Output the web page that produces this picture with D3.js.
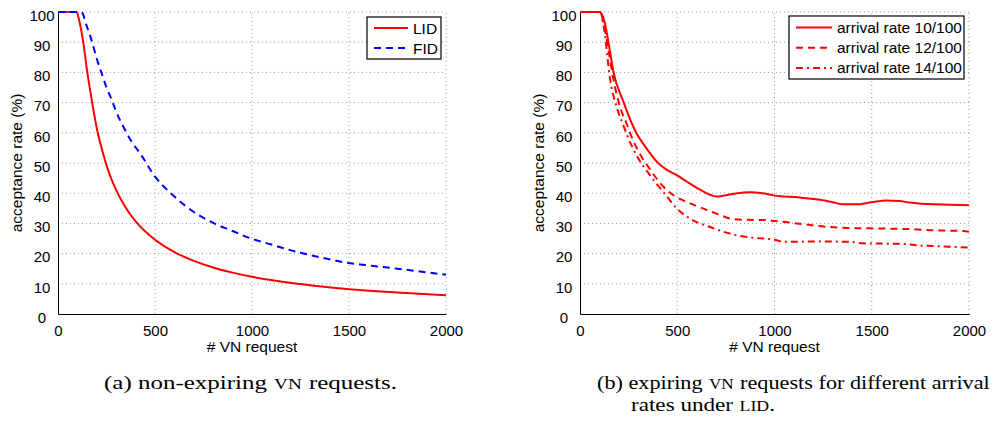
<!DOCTYPE html>
<html>
<head>
<meta charset="utf-8">
<script src="https://cdn.jsdelivr.net/npm/d3@7"></script>
<style>
  body { margin: 0; background: #fff; }
  svg { display: block; }
  .tick text { font-family: "Liberation Sans", Arial, sans-serif; font-size: 15px; fill: #000; }
  .lbl { font-family: "Liberation Sans", Arial, sans-serif; font-size: 15.5px; fill: #000; }
  .cap { font-family: "Liberation Serif", "DejaVu Serif", serif; font-size: 19.5px; fill: #000; }
</style>
</head>
<body>
<svg width="996" height="421"></svg>
<script>
// (a) non-expiring VN requests
const lidReq  = [0, 96, 110, 131, 150, 175, 200, 233, 260, 300, 350, 400, 450, 500, 600, 700, 800, 900, 1000, 1250, 1500, 1750, 2000];
const lidRate = [100, 100, 97, 89.6, 80.5, 70.5, 61.5, 53, 47.3, 41, 35.1, 30.7, 27.3, 24.6, 20.5, 17.6, 15.4, 13.7, 12.3, 9.9, 8.2, 7.1, 6.2];
const fidReq  = [0, 120, 150, 176, 200, 225, 250, 277, 300, 337, 380, 423, 500, 581, 667, 732, 805, 900, 990, 1100, 1230, 1350, 1488, 1600, 1750, 1900, 2000];
const fidRate = [100, 100, 95, 90, 84.5, 79.7, 75, 70.9, 67, 62, 57, 53.2, 45.5, 40, 35.3, 32.5, 30, 27.5, 25.1, 23, 20.6, 18.8, 17, 16.1, 15, 13.8, 13];

// (b) expiring VN requests, three arrival rates
const r10Req  = [0, 103, 125, 154, 171, 222, 285, 340, 397, 445, 497, 550, 600, 650, 702, 740, 800, 874, 930, 1000, 1130, 1233, 1300, 1353, 1420, 1499, 1576, 1640, 1696, 1816, 1900, 2000];
const r10Rate = [100, 100, 97, 87, 80.5, 70.5, 60.5, 55, 50.3, 47.8, 46, 43.8, 41.8, 40, 38.9, 39.2, 39.9, 40.3, 40.1, 39.2, 38.6, 37.8, 37, 36.3, 36.3, 37, 37.6, 37.4, 36.9, 36.3, 36.2, 36];
const r12Req  = [0, 103, 125, 150, 171, 206, 240, 260, 317, 343, 390, 428, 497, 560, 650, 720, 771, 850, 950, 1000, 1100, 1165, 1233, 1370, 1559, 1700, 1816, 1970, 2000];
const r12Rate = [100, 100, 95, 86, 78, 68.5, 63, 59.5, 52, 49.5, 45.2, 42.2, 38.7, 36.8, 34.5, 32.8, 31.6, 31.2, 31.1, 30.8, 30.1, 29.6, 29.1, 28.5, 28.3, 28.1, 27.7, 27.5, 27.2];
const r14Req  = [0, 103, 125, 154, 189, 223, 240, 300, 350, 394, 431, 497, 560, 668, 805, 900, 1000, 1045, 1233, 1388, 1450, 1576, 1660, 1747, 1900, 2000];
const r14Rate = [100, 100, 94, 78, 68.4, 62.5, 59.6, 51.5, 46.8, 43.1, 40.2, 35, 31.8, 28.8, 26.1, 25.2, 24.6, 23.9, 24, 23.9, 23.4, 23.3, 23.2, 22.7, 22.3, 22];

const xTicks = [0, 500, 1000, 1500, 2000];
const yTicks = [0, 10, 20, 30, 40, 50, 60, 70, 80, 90, 100];

const svg = d3.select("svg");

function zip(xs, ys) { return xs.map((x, i) => [x, ys[i]]); }

function drawPanel(left, right, series, legend) {
  const x = d3.scaleLinear().domain([0, 2000]).range([left, right]);
  const y = d3.scaleLinear().domain([0, 100]).range([314, 12]);
  const g = svg.append("g");

  // dotted grid
  g.append("g").selectAll("line").data(yTicks.filter(d => d > 0)).join("line")
    .attr("x1", x(0)).attr("x2", x(2000))
    .attr("y1", d => y(d)).attr("y2", d => y(d))
    .attr("stroke", "#9a9a9a").attr("stroke-width", 1).attr("stroke-dasharray", "1,3");
  g.append("g").selectAll("line").data(xTicks.filter(d => d > 0)).join("line")
    .attr("x1", d => x(d)).attr("x2", d => x(d))
    .attr("y1", y(0)).attr("y2", y(100))
    .attr("stroke", "#9a9a9a").attr("stroke-width", 1).attr("stroke-dasharray", "1,3");

  // axes
  const xa = g.append("g").attr("transform", `translate(0,${y(0)})`)
    .call(d3.axisBottom(x).tickValues(xTicks).tickSize(0).tickPadding(10).tickFormat(d3.format("d")));
  xa.select(".domain").attr("stroke", "#000");
  const ya = g.append("g").attr("transform", `translate(${x(0)},0)`)
    .call(d3.axisLeft(y).tickValues(yTicks).tickSize(0).tickFormat(d3.format("d")));
  ya.select(".domain").attr("stroke", "#000");
  ya.selectAll(".tick text").attr("text-anchor", "middle").attr("x", -16).attr("dy", "0.55em");
  xa.selectAll(".tick text").attr("dy", "0.82em");

  g.append("text").attr("class", "lbl").attr("text-anchor", "middle")
    .attr("x", (left + right) / 2).attr("y", 352).text("# VN request");
  g.append("text").attr("class", "lbl").attr("text-anchor", "middle")
    .attr("transform", `translate(${left - 36},163) rotate(-90)`).text("acceptance rate (%)");

  // curves
  const line = d3.line().x(d => x(d[0])).y(d => y(d[1])).curve(d3.curveMonotoneX);
  series.forEach(s => {
    g.append("path").datum(zip(s.xs, s.ys))
      .attr("fill", "none").attr("stroke", s.color).attr("stroke-width", 2)
      .attr("stroke-dasharray", s.dash).attr("d", line);
  });

  // legend
  const lg = g.append("g");
  lg.append("rect").attr("x", legend.x).attr("y", legend.y)
    .attr("width", legend.w).attr("height", legend.h)
    .attr("fill", "#fff").attr("stroke", "#000").attr("stroke-width", 1.2);
  series.forEach((s, i) => {
    const ly = legend.y + legend.top + i * legend.step;
    lg.append("line").attr("x1", legend.x + 7).attr("x2", legend.x + 7 + legend.len)
      .attr("y1", ly).attr("y2", ly)
      .attr("stroke", s.color).attr("stroke-width", 2).attr("stroke-dasharray", s.dash);
    lg.append("text").attr("class", "lbl").attr("x", legend.x + 12 + legend.len)
      .attr("y", ly + 5.5).text(s.name);
  });
}

drawPanel(58, 446, [
  { name: "LID", xs: lidReq, ys: lidRate, color: "#ff0000", dash: null },
  { name: "FID", xs: fidReq, ys: fidRate, color: "#0000ff", dash: "7,5" }
], { x: 367, y: 17, w: 74, h: 42, top: 11, step: 20, len: 34 });

drawPanel(580, 969, [
  { name: "arrival rate 10/100", xs: r10Req, ys: r10Rate, color: "#ff0000", dash: null },
  { name: "arrival rate 12/100", xs: r12Req, ys: r12Rate, color: "#ff0000", dash: "7,5" },
  { name: "arrival rate 14/100", xs: r14Req, ys: r14Rate, color: "#ff0000", dash: "7,4,2,4" }
], { x: 789, y: 16, w: 175, h: 63, top: 11.5, step: 20.2, len: 36 });

// captions: pieces laid out one after another (small caps pieces smaller),
// then the line is stretched to the width seen in the reference
function caption(xPos, yPos, parts, len) {
  const g = svg.append("g");
  let cx = 0;
  parts.forEach(p => {
    if (p[2]) cx += 5.5;
    const t = g.append("text").attr("class", "cap").attr("x", cx).attr("y", 0).text(p[0]);
    if (p[1]) t.style("font-size", "15px");
    cx += t.node().getComputedTextLength();
  });
  g.attr("transform", `translate(${xPos},${yPos}) scale(${len / cx},1)`);
}
caption(104, 389, [["(a) non-expiring"], ["VN", true, true], ["requests.", false, true]], 293);
caption(597, 389, [["(b) expiring"], ["VN", true, true], ["requests for different arrival", false, true]], 393);
caption(631, 411, [["rates under"], ["LID", true, true], [".", false, false]], 144);
</script>
</body>
</html>
